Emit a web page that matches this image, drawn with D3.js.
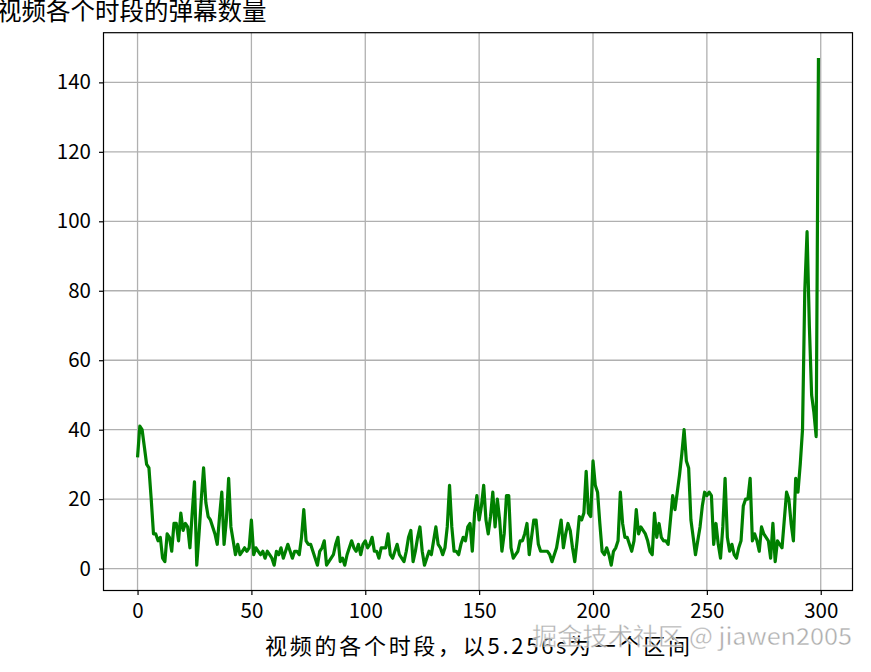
<!DOCTYPE html>
<html>
<head>
<meta charset="utf-8">
<script src="https://cdn.jsdelivr.net/npm/d3@7"></script>
<style>
  html, body { margin: 0; padding: 0; background: #fff; }
  svg { display: block; }
  text { font-family: "Noto Sans CJK SC", "Noto Sans", sans-serif; }
</style>
</head>
<body>
<svg id="chart" width="871" height="672"></svg>
<script>
const title = "视频各个时段的弹幕数量";
const xLabel = "视频的各个时段，以5.256s为一个区间";
const watermark = "掘金技术社区 @ jiawen2005";
const xTicks = [0, 50, 100, 150, 200, 250, 300];
const yTicks = [0, 20, 40, 60, 80, 100, 120, 140];
const counts = [
  32, 41, 40, 35, 30, 29, 20, 10, 10, 8,
  9, 3, 2, 10, 9, 5, 13, 13, 8, 16,
  11, 13, 12, 6, 16, 25, 1, 10, 20, 29,
  19, 15, 14, 12, 10, 7, 15, 22, 7, 14,
  26, 12, 8, 4, 7, 4, 5, 6, 5, 6,
  14, 4, 6, 5, 4, 5, 3, 5, 4, 3,
  1, 5, 4, 6, 3, 5, 7, 5, 3, 5,
  5, 4, 9, 17, 8, 7, 7, 5, 3, 1,
  5, 6, 8, 1, 2, 3, 4, 7, 9, 2,
  3, 1, 4, 6, 8, 6, 5, 7, 4, 7,
  8, 6, 7, 9, 5, 5, 3, 6, 6, 6,
  10, 4, 3, 5, 7, 4, 3, 2, 5, 9,
  11, 2, 5, 9, 12, 5, 1, 3, 5, 4,
  8, 12, 7, 6, 4, 6, 12, 24, 12, 5,
  5, 4, 7, 9, 8, 12, 13, 5, 16, 21,
  14, 18, 24, 14, 10, 15, 22, 12, 20, 14,
  5, 10, 21, 21, 6, 3, 4, 5, 8, 8,
  10, 13, 4, 9, 14, 14, 7, 5, 5, 5,
  5, 4, 2, 4, 6, 10, 14, 6, 10, 13,
  11, 6, 2, 8, 15, 14, 16, 28, 16, 15,
  31, 24, 22, 13, 5, 4, 6, 4, 1, 5,
  6, 8, 22, 13, 9, 9, 7, 5, 8, 17,
  10, 12, 11, 10, 8, 5, 4, 16, 9, 13,
  9, 8, 8, 7, 14, 21, 17, 22, 27, 33,
  40, 31, 29, 14, 9, 4, 8, 12, 18, 22,
  21, 22, 21, 7, 13, 7, 3, 12, 26, 9,
  5, 7, 4, 3, 6, 8, 18, 20, 20, 26,
  8, 10, 8, 5, 12, 10, 9, 8, 3, 13,
  2, 8, 7, 6, 14, 22, 20, 13, 8, 26,
  22, 30, 40, 80, 97, 70, 50, 45, 38, 147
];

(function () {
const svg = d3.select("#chart");
const pl = 103.5, pr = 852.5, pt = 32.7, pb = 590.5;

const n = counts.length;
const xMargin = (n - 1) * 0.05;
const yMin = d3.min(counts), yMax = d3.max(counts);
const yMargin = (yMax - yMin) * 0.05;

const x = d3.scaleLinear().domain([0 - xMargin, (n - 1) + xMargin]).range([pl, pr]);
const y = d3.scaleLinear().domain([yMin - yMargin, yMax + yMargin]).range([pb, pt]);

// grid
const grid = svg.append("g");
grid.selectAll("line.v").data(xTicks).join("line").attr("class", "v")
  .attr("x1", d => x(d)).attr("x2", d => x(d))
  .attr("y1", pt).attr("y2", pb)
  .attr("stroke", "#b0b0b0").attr("stroke-width", 1.3);
grid.selectAll("line.h").data(yTicks).join("line").attr("class", "h")
  .attr("y1", d => y(d)).attr("y2", d => y(d))
  .attr("x1", pl).attr("x2", pr)
  .attr("stroke", "#b0b0b0").attr("stroke-width", 1.3);

// line
const line = d3.line().x((d, i) => x(i)).y(d => y(d));
svg.append("path").datum(counts)
  .attr("d", line)
  .attr("fill", "none")
  .attr("stroke", "#008000")
  .attr("stroke-width", 3.2)
  .attr("stroke-linejoin", "round")
  .attr("stroke-linecap", "butt");

// frame
svg.append("rect")
  .attr("x", pl).attr("y", pt)
  .attr("width", pr - pl).attr("height", pb - pt)
  .attr("fill", "none").attr("stroke", "#000").attr("stroke-width", 1.2);

// axes
const xAxis = d3.axisBottom(x).tickValues(xTicks).tickSize(4.5).tickPadding(8).tickFormat(d3.format("d"));
const yAxis = d3.axisLeft(y).tickValues(yTicks).tickSize(4.5).tickPadding(8).tickFormat(d3.format("d"));

const gx = svg.append("g").attr("transform", `translate(0,${pb})`).call(xAxis);
const gy = svg.append("g").attr("transform", `translate(${pl},0)`).call(yAxis);
[gx, gy].forEach(g => {
  g.select(".domain").remove();
  g.selectAll(".tick line").attr("stroke", "#000").attr("stroke-width", 1.2);
  g.selectAll(".tick text").attr("fill", "#000").style("font-size", "20.5px")
    .style("font-family", '"Noto Sans CJK SC", sans-serif');
});

// title
svg.append("text")
  .attr("x", -3).attr("y", 20)
  .attr("fill", "#000")
  .style("font-size", "24.5px")
  .text(title);

// x label
svg.append("text")
  .attr("x", 265).attr("y", 654)
  .attr("fill", "#000")
  .style("font-size", "22px")
  .attr("textLength", 425)
  .attr("lengthAdjust", "spacing")
  .text(xLabel);

// watermark
svg.append("text")
  .attr("x", 532).attr("y", 645)
  .attr("fill", "#9a9a9a")
  .attr("fill-opacity", 0.85)
  .attr("stroke", "#ffffff")
  .attr("stroke-opacity", 0.6)
  .attr("stroke-width", 0.8)
  .style("font-size", "24px")
  .attr("textLength", 320)
  .attr("lengthAdjust", "spacingAndGlyphs")
  .text(watermark);
})();
</script>
</body>
</html>
